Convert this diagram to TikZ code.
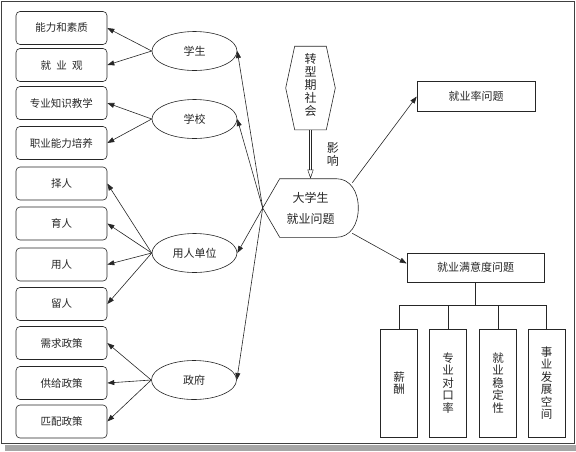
\documentclass[tikz,border=0pt]{standalone}
\usepackage{fontspec}
\setmainfont{Noto Sans CJK SC}
\usetikzlibrary{shapes.geometric, arrows.meta, positioning, calc}

\begin{document}
\begin{tikzpicture}[
    x=1pt, y=-1pt,
    line width=0.6pt, color=black!85,
    box/.style={draw, rectangle, rounded corners=4pt, minimum width=91pt, minimum height=33pt, font=\fontsize{10.5}{12}\selectfont},
    actor/.style={draw, ellipse, minimum width=85pt, minimum height=39pt, inner sep=0pt, font=\fontsize{11}{12}\selectfont},
    issue/.style={draw, rectangle, minimum height=30pt, font=\fontsize{11}{12}\selectfont},
    factor/.style={draw, rectangle, minimum width=37pt, minimum height=108pt, align=center, font=\fontsize{11.5}{12.5}\selectfont},
    tip/.style={-{Triangle[length=7pt, width=5pt]}},
    label text/.style={font=\fontsize{12}{12.8}\selectfont, align=center, inner sep=0pt}
]
\useasboundingbox (0,0) rectangle (576,451);

% Frame
\fill[black!35] (5,445) rectangle (576,451);
\draw[line width=1.5pt, black!75] (1.5,1.5) rectangle (574.5,443.5);

% Nodes
\node[box] (ability) at (61.5, 28) {能力和素质};
\node[box] (view) at (61.5, 65) {就\hspace{0.5em}业\hspace{0.5em}观};
\node[box] (teach) at (61.5, 103) {专业知识教学};
\node[box] (train) at (61.5, 143) {职业能力培养};
\node[box] (select) at (61.5, 183.5) {择人};
\node[box] (educate) at (61.5, 223.5) {育人};
\node[box] (employ) at (61.5, 264.5) {用人};
\node[box] (retain) at (61.5, 304) {留人};
\node[box] (demand) at (61.5, 343) {需求政策};
\node[box] (supply) at (61.5, 383) {供给政策};
\node[box] (match) at (61.5, 421.5) {匹配政策};

\node[actor] (student) at (194.5, 51) {学生};
\node[actor] (school) at (194.5, 119) {学校};
\node[actor] (firm) at (194.5, 253) {用人单位};
\node[actor] (gov) at (194, 380) {政府};

\node[label text, minimum width=95pt, minimum height=58pt, font=\fontsize{12}{21}\selectfont] (core) at (310.5, 208) {大学生\\就业问题};
\node[label text, minimum width=49pt, minimum height=77pt] (society) at (310.5, 85) {转\\型\\期\\社\\会};

\node[issue, minimum width=118pt] (rate) at (476, 96.5) {就业率问题};
\node[issue, minimum width=137pt, minimum height=29pt] (satis) at (475.5, 267.5) {就业满意度问题};

\node[factor] (pay) at (399, 383) {薪\\酬};
\node[factor] (major) at (448, 383) {专\\业\\对\\口\\率};
\node[factor] (stable) at (498, 383) {就\\业\\稳\\定\\性};
\node[factor] (career) at (546.5, 383) {事\\业\\发\\展\\空\\间};

% Outlines
\draw ([yshift=-3pt]society.west) -- ([xshift=9pt]society.north west) -- ([xshift=-9pt]society.north east) -- ([yshift=-3pt]society.east) -- ([xshift=-9pt, yshift=-6pt]society.south east) -- ([xshift=9pt, yshift=-6pt]society.south west) -- cycle;
\draw (core.west) -- ([xshift=17pt]core.north west) -- ([xshift=-22pt]core.north east)
    .. controls ([xshift=-8pt]core.north east) and ([yshift=-13pt]core.north east) .. (core.east)
    .. controls ([yshift=13pt]core.south east) and ([xshift=-8pt]core.south east) .. ([xshift=-22pt]core.south east)
    -- ([xshift=17pt]core.south west) -- cycle;

% Connectors
\foreach \a/\b in {student/ability, student/view, school/teach, school/train, firm/select, firm/educate, firm/employ, firm/retain, gov/demand, gov/supply, gov/match}
  \draw[tip] (\a.west) -- (\b.east);
\foreach \a in {student, school, firm, gov}
  \draw[tip] (core.west) -- (\a.east);

\draw[double, double distance=1.8pt, line width=0.5pt, -{Triangle[open, length=9pt, width=6pt]}] ([yshift=-6pt]society.south) -- node[label text, right=16pt] {影\\响} (core.north);

\coordinate (core ne) at ([xshift=-6pt, yshift=-4pt]core.north east);
\coordinate (core se) at ([xshift=-6pt, yshift=4pt]core.south east);
\draw[tip] (core ne) -- (rate.west);
\draw[tip] (core se) -- ([yshift=4pt]satis.west);

% Tree
\coordinate (bus) at (475.5, 305);
\draw (satis.south) -- (bus);
\draw (bus -| pay.north) -- (bus -| career.north);
\foreach \f in {pay, major, stable, career}
  \draw (bus -| \f.north) -- (\f.north);

\end{tikzpicture}
\end{document}
